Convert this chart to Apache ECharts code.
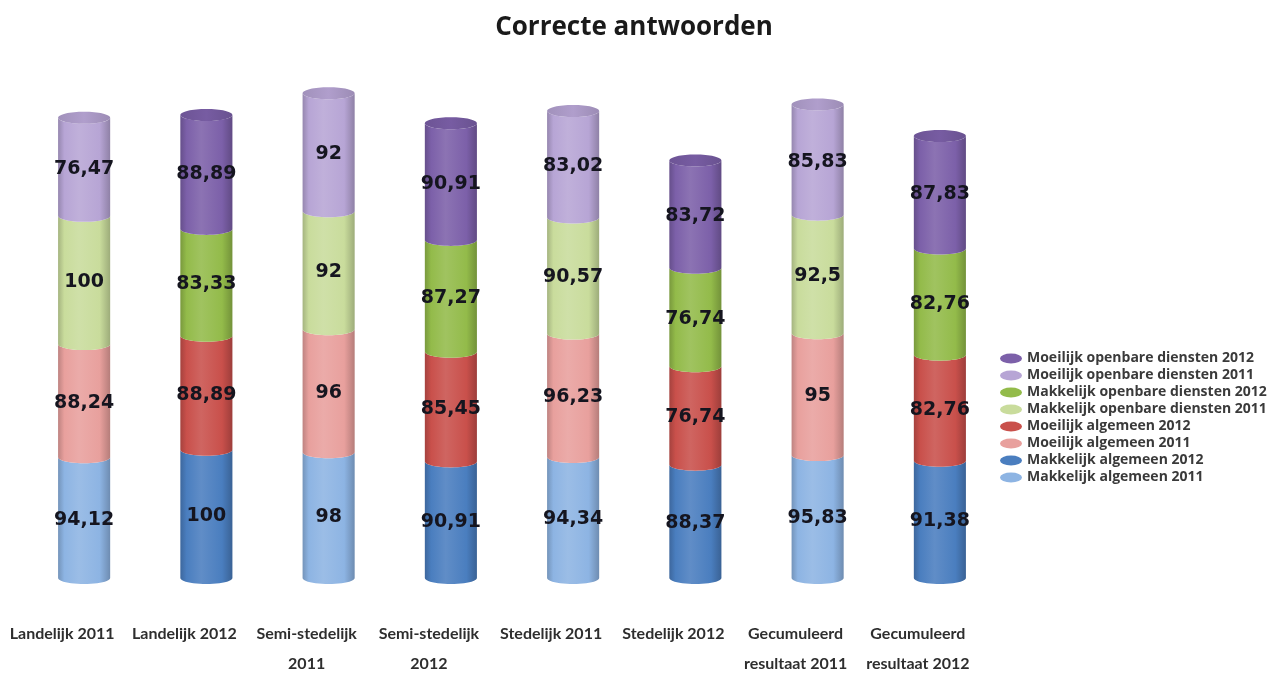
<!DOCTYPE html>
<html>
<head>
<meta charset="utf-8">
<title>Correcte antwoorden</title>
<script src="https://cdn.jsdelivr.net/npm/echarts@6/dist/echarts.min.js"></script>
<style>
  html, body { margin: 0; padding: 0; background: #ffffff; }
  #chart { width: 1282px; height: 673px; }
</style>
</head>
<body>
<div id="chart"></div>
<script>
// Column categories (2011 / 2012 per region type)
const categories = [
  'Landelijk 2011', 'Landelijk 2012',
  'Semi-stedelijk\n2011', 'Semi-stedelijk\n2012',
  'Stedelijk 2011', 'Stedelijk 2012',
  'Gecumuleerd\nresultaat 2011', 'Gecumuleerd\nresultaat 2012'
];

// Series values, stacked bottom to top; null where a series has no column
const makkelijkAlgemeen2011  = [94.12, null, 98, null, 94.34, null, 95.83, null];
const makkelijkAlgemeen2012  = [null, 100, null, 90.91, null, 88.37, null, 91.38];
const moeilijkAlgemeen2011   = [88.24, null, 96, null, 96.23, null, 95, null];
const moeilijkAlgemeen2012   = [null, 88.89, null, 85.45, null, 76.74, null, 82.76];
const makkelijkOpenbaar2011  = [100, null, 92, null, 90.57, null, 92.5, null];
const makkelijkOpenbaar2012  = [null, 83.33, null, 87.27, null, 76.74, null, 82.76];
const moeilijkOpenbaar2011   = [76.47, null, 92, null, 83.02, null, 85.83, null];
const moeilijkOpenbaar2012   = [null, 88.89, null, 90.91, null, 83.72, null, 87.83];

// Stack order (bottom to top)
const seriesDefs = [
  { name: 'Makkelijk algemeen 2011', values: makkelijkAlgemeen2011, color: '#8db4e3' },
  { name: 'Makkelijk algemeen 2012', values: makkelijkAlgemeen2012, color: '#4a7ebf' },
  { name: 'Moeilijk algemeen 2011', values: moeilijkAlgemeen2011, color: '#e8a09d' },
  { name: 'Moeilijk algemeen 2012', values: moeilijkAlgemeen2012, color: '#c9504b' },
  { name: 'Makkelijk openbare diensten 2011', values: makkelijkOpenbaar2011, color: '#c9dc9c' },
  { name: 'Makkelijk openbare diensten 2012', values: makkelijkOpenbaar2012, color: '#93bb4a' },
  { name: 'Moeilijk openbare diensten 2011', values: moeilijkOpenbaar2011, color: '#b7a5d5' },
  { name: 'Moeilijk openbare diensten 2012', values: moeilijkOpenbaar2012, color: '#7c60a9' }
];

function shade(hex, amt) {
  const n = parseInt(hex.slice(1), 16);
  let r = (n >> 16) & 255, g = (n >> 8) & 255, b = n & 255;
  const t = amt < 0 ? 0 : 255, p = Math.abs(amt);
  r = Math.round(r + (t - r) * p);
  g = Math.round(g + (t - g) * p);
  b = Math.round(b + (t - b) * p);
  return 'rgb(' + r + ',' + g + ',' + b + ')';
}

function bodyGradient(c) {
  return {
    type: 'linear', x: 0, y: 0, x2: 1, y2: 0,
    colorStops: [
      { offset: 0, color: shade(c, -0.18) },
      { offset: 0.12, color: c },
      { offset: 0.4, color: shade(c, 0.12) },
      { offset: 0.8, color: c },
      { offset: 1, color: shade(c, -0.22) }
    ]
  };
}

// Running stack bases per column
const runningBase = categories.map(() => 0);
const topIndex = categories.map((_, i) => {
  let last = -1;
  seriesDefs.forEach((s, k) => { if (s.values[i] != null) last = k; });
  return last;
});

const seriesData = seriesDefs.map((s, k) => {
  const data = [];
  s.values.forEach((v, i) => {
    if (v == null) return;
    const lo = runningBase[i];
    const hi = lo + v;
    runningBase[i] = hi;
    data.push([i, lo, hi, v, topIndex[i] === k ? 1 : 0]);
  });
  return data;
});

function formatValue(v) {
  return String(v).replace('.', ',');
}

function renderCylinder(params, api) {
  const cat = api.value(0), lo = api.value(1), hi = api.value(2);
  const val = api.value(3), isTop = api.value(4);
  const pLo = api.coord([cat, lo]);
  const pHi = api.coord([cat, hi]);
  const band = api.size([1, 0])[0];
  const rx = band * 0.213;
  const ry = 6;
  const cx = pLo[0];
  const c = seriesDefs[params.seriesIndex].color;
  const steps = 24;
  const pts = [];
  for (let j = 0; j <= steps; j++) {
    const a = Math.PI - Math.PI * j / steps;
    pts.push([cx + rx * Math.cos(a), pLo[1] + ry * Math.sin(a)]);
  }
  for (let j = 0; j <= steps; j++) {
    const a = Math.PI * j / steps;
    pts.push([cx + rx * Math.cos(a), pHi[1] + ry * Math.sin(a)]);
  }
  const children = [{
    type: 'polygon',
    shape: { points: pts },
    style: { fill: bodyGradient(c) }
  }];
  if (isTop) {
    children.push({
      type: 'ellipse',
      shape: { cx: cx, cy: pHi[1], rx: rx, ry: ry },
      style: {
        fill: {
          type: 'linear', x: 0, y: 0, x2: 1, y2: 0,
          colorStops: [
            { offset: 0, color: shade(c, -0.12) },
            { offset: 0.5, color: shade(c, -0.04) },
            { offset: 1, color: shade(c, -0.15) }
          ]
        }
      }
    });
  }
  children.push({
    type: 'text',
    style: {
      text: formatValue(val),
      x: cx,
      y: (pLo[1] + pHi[1]) / 2 + 2,
      align: 'center',
      verticalAlign: 'middle',
      fill: '#15151f',
      font: 'bold 19px "DejaVu Sans", sans-serif'
    }
  });
  return { type: 'group', children: children };
}

const ellipseIcon = 'path://M0,5 A11,5 0 1,0 22,5 A11,5 0 1,0 0,5 Z';

const chart = echarts.init(document.getElementById('chart'), null, { renderer: 'canvas' });
chart.setOption({
  backgroundColor: '#ffffff',
  animation: false,
  title: {
    text: 'Correcte antwoorden',
    left: 629,
    textAlign: 'center',
    top: 10,
    textStyle: {
      fontFamily: '"Open Sans", sans-serif',
      fontWeight: 'bold',
      fontSize: 26,
      color: '#1a1a1a'
    }
  },
  legend: {
    orient: 'vertical',
    left: 995,
    top: 346,
    itemWidth: 22,
    itemHeight: 10,
    itemGap: 2,
    selectedMode: false,
    data: seriesDefs.map(s => ({ name: s.name, icon: ellipseIcon })).reverse(),
    textStyle: {
      fontFamily: '"Open Sans", sans-serif',
      fontWeight: 'bold',
      fontSize: 14,
      lineHeight: 15,
      color: '#3a3a3a'
    }
  },
  grid: { left: 23, right: 281, top: 65, bottom: 95, outerBoundsMode: 'none' },
  xAxis: {
    type: 'category',
    data: categories,
    axisLine: { show: false },
    axisTick: { show: false },
    axisLabel: {
      interval: 0,
      margin: 41,
      lineHeight: 30,
      padding: [0, 44, 0, 0],
      fontFamily: 'Lato, sans-serif',
      fontWeight: 'bold',
      fontSize: 16,
      color: '#2e2e2e'
    }
  },
  yAxis: {
    type: 'value',
    min: 0,
    max: 400,
    show: false
  },
  series: seriesDefs.map((s, k) => ({
    type: 'custom',
    name: s.name,
    itemStyle: { color: s.color },
    renderItem: renderCylinder,
    encode: { x: 0, y: [1, 2] },
    data: seriesData[k]
  }))
});
</script>
</body>
</html>
